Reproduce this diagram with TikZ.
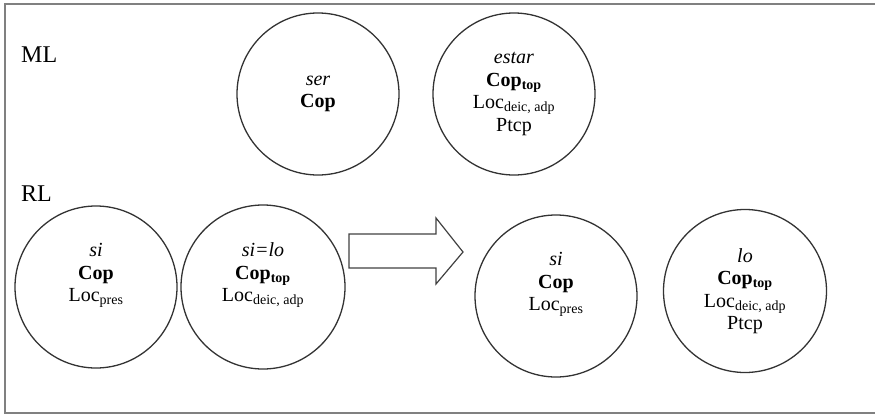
\documentclass[tikz,border=0pt]{standalone}
\usepackage{fontspec}
\setmainfont{Liberation Serif}
\usetikzlibrary{positioning}
\tikzset{
    bubble/.style={draw=black!80, line width=1.3pt, circle, minimum size=162pt,
        inner sep=0pt, align=center, font=\fontsize{20}{22.5}\selectfont},
    levellabel/.style={anchor=west, inner sep=0pt, font=\fontsize{24}{28}\selectfont},
}
\newcommand{\sbs}[1]{\textsubscript{#1}}
\begin{document}
\begin{tikzpicture}[x=1pt, y=-1pt]
    \useasboundingbox (0,0) rectangle (875,415);
    % frame
    \draw[black!50, line width=2pt] (880,4) -- (5,4) -- (5,413) -- (880,413);
    \node[levellabel] (ml) at (21,55) {ML};
    \node[levellabel] (rl) at (21,194) {RL};
    % ML circles
    \node[bubble] (ser) at (318,94) {\textit{ser}\\ \textbf{Cop}};
    \node[bubble] (estar) at (514,94) {\textit{estar}\\ \textbf{Cop\sbs{top}}\\ Loc\sbs{deic, adp}\\ Ptcp};
    % RL circles, before
    \node[bubble] (si1) at (96,287) {\textit{si}\\ \textbf{Cop}\\ Loc\sbs{pres}\\ \strut};
    \node[bubble, minimum size=164pt] (silo) at (263,287) {\textit{si=lo}\\ \textbf{Cop\sbs{top}}\\ Loc\sbs{deic, adp}\\ \strut};
    % RL circles, after
    \node[bubble] (si2) at (556,296) {\textit{si}\\ \textbf{Cop}\\ Loc\sbs{pres}\\ \strut};
    \node[bubble, minimum size=163pt] (lo) at (745,291) {\textit{lo}\\ \textbf{Cop\sbs{top}}\\ Loc\sbs{deic, adp}\\ Ptcp};
    % block arrow
    \coordinate (tip) at (463,252);
    \draw[black!75, line width=1.2pt, line join=miter]
        (349,234) -- (436,234) -- (436,218) -- (tip) -- (436,284) -- (436,268) -- (349,268) -- cycle;
\end{tikzpicture}
\end{document}
